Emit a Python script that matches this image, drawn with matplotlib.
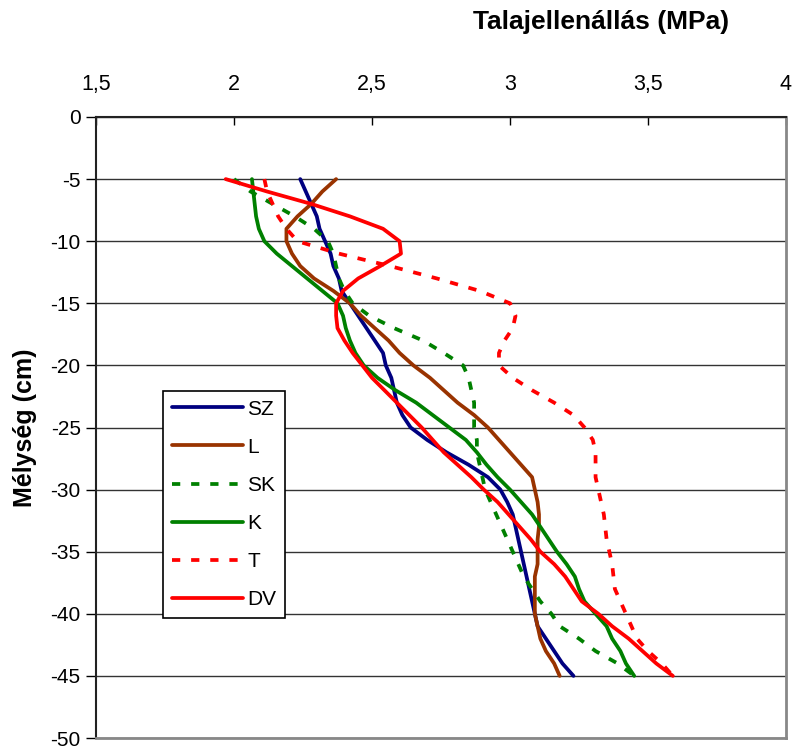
import matplotlib
matplotlib.use("Agg")
import matplotlib.pyplot as plt
from matplotlib.ticker import FuncFormatter

# depth below surface (cm), shared by every series
depth = [-5, -6, -7, -8, -9, -10, -11, -12, -13, -14, -15, -16, -17, -18, -19,
         -20, -21, -22, -23, -24, -25, -26, -27, -28, -29, -30, -31, -32, -33,
         -34, -35, -36, -37, -38, -39, -40, -41, -42, -43, -44, -45]

# penetration resistance (MPa)
sz = [2.24, 2.26, 2.28, 2.30, 2.31, 2.33, 2.35, 2.36, 2.38, 2.39, 2.42, 2.45,
      2.48, 2.51, 2.54, 2.55, 2.57, 2.58, 2.59, 2.61, 2.64, 2.70, 2.77, 2.85,
      2.92, 2.965, 2.99, 3.01, 3.02, 3.03, 3.04, 3.05, 3.06, 3.07, 3.08, 3.09,
      3.10, 3.13, 3.16, 3.19, 3.23]
l = [2.37, 2.32, 2.28, 2.23, 2.19, 2.19, 2.21, 2.24, 2.29, 2.36, 2.42, 2.46,
     2.51, 2.56, 2.60, 2.65, 2.71, 2.76, 2.81, 2.87, 2.92, 2.96, 3.00, 3.04,
     3.08, 3.09, 3.10, 3.105, 3.105, 3.10, 3.10, 3.10, 3.09, 3.09, 3.09, 3.09,
     3.10, 3.11, 3.13, 3.16, 3.18]
sk = [2.00, 2.06, 2.14, 2.22, 2.29, 2.34, 2.36, 2.37, 2.38, 2.40, 2.43, 2.49,
      2.58, 2.685, 2.76, 2.83, 2.85, 2.86, 2.87, 2.87, 2.87, 2.88, 2.88, 2.89,
      2.90, 2.91, 2.93, 2.95, 2.97, 2.99, 3.01, 3.03, 3.05, 3.08, 3.11, 3.15,
      3.18, 3.25, 3.31, 3.39, 3.45]
k = [2.065, 2.07, 2.075, 2.08, 2.09, 2.11, 2.155, 2.21, 2.265, 2.32, 2.375,
     2.395, 2.405, 2.42, 2.44, 2.47, 2.52, 2.585, 2.66, 2.72, 2.78, 2.84, 2.88,
     2.915, 2.955, 3.00, 3.04, 3.08, 3.11, 3.14, 3.17, 3.205, 3.235, 3.25,
     3.27, 3.31, 3.35, 3.37, 3.40, 3.42, 3.45]
t = [2.11, 2.12, 2.14, 2.16, 2.19, 2.23, 2.38, 2.565, 2.735, 2.89, 3.00, 3.02,
     3.01, 2.98, 2.96, 2.96, 3.01, 3.08, 3.16, 3.23, 3.27, 3.30, 3.31, 3.31,
     3.31, 3.32, 3.33, 3.34, 3.345, 3.35, 3.36, 3.37, 3.375, 3.38, 3.40, 3.42,
     3.44, 3.46, 3.50, 3.55, 3.59]
dv = [1.97, 2.12, 2.28, 2.42, 2.54, 2.60, 2.605, 2.53, 2.45, 2.395, 2.37,
      2.37, 2.375, 2.40, 2.43, 2.465, 2.50, 2.545, 2.59, 2.635, 2.68, 2.72,
      2.76, 2.81, 2.86, 2.905, 2.955, 2.995, 3.035, 3.075, 3.11, 3.16, 3.20,
      3.23, 3.26, 3.32, 3.37, 3.43, 3.48, 3.53, 3.59]

labels = ["SZ", "L", "SK", "K", "T", "DV"]
x_ticks = [1.5, 2, 2.5, 3, 3.5, 4]
y_ticks = [0, -5, -10, -15, -20, -25, -30, -35, -40, -45, -50]

plt.rcParams["font.family"] = ["Liberation Sans", "DejaVu Sans"]

fig = plt.figure(figsize=(7.92, 7.46), dpi=100)
ax = fig.add_axes([96 / 792, 1 - 738 / 746, 690 / 792, 621 / 746])

series = [
    (sz, "#000080", "-"),
    (l, "#993300", "-"),
    (sk, "#008000", "--"),
    (k, "#008000", "-"),
    (t, "#ff0000", "--"),
    (dv, "#ff0000", "-"),
]
for (vals, col, ls), lab in zip(series, labels):
    line, = ax.plot(vals, depth, color=col, lw=2.7, ls=ls, label=lab,
                    solid_capstyle="round", zorder=3)
    if ls == "--":
        line.set_dashes([2.2, 2.9])

ax.set_xlim(1.5, 4)
ax.set_ylim(-50, 0)
ax.set_xticks(x_ticks)
ax.set_yticks(y_ticks)

comma = FuncFormatter(lambda v, p: ("%g" % v).replace(".", ","))
ax.xaxis.set_major_formatter(comma)
ax.yaxis.set_major_formatter(comma)

ax.xaxis.tick_top()
ax.tick_params(axis="x", direction="in", length=6, width=1, pad=16,
               labelsize=15.5)
ax.tick_params(axis="y", direction="out", length=7, width=1, pad=4,
               labelsize=15)

ax.yaxis.grid(True, color="#333333", lw=1)
ax.set_axisbelow(True)

for side in ("top", "left"):
    ax.spines[side].set_color("#222222")
    ax.spines[side].set_linewidth(1.5)
for side in ("right", "bottom"):
    ax.spines[side].set_color("#888888")
    ax.spines[side].set_linewidth(2)

fig.text(25 / 792, 1 - 428 / 746, "Mélység (cm)", rotation=90, ha="center",
         va="center", fontsize=18, fontweight="bold")
fig.text(0.759, 0.9705, "Talajellenállás (MPa)", ha="center", va="center",
         fontsize=19, fontweight="bold")

leg = ax.legend(loc="upper left", bbox_to_anchor=(0.097, 0.559),
                borderaxespad=0, fontsize=15, handlelength=3.4,
                handletextpad=0.22, labelspacing=0.92, fancybox=False,
                framealpha=1, edgecolor="black", borderpad=0.42)
leg.get_frame().set_linewidth(1.2)

fig.savefig("out.png", dpi=100)
